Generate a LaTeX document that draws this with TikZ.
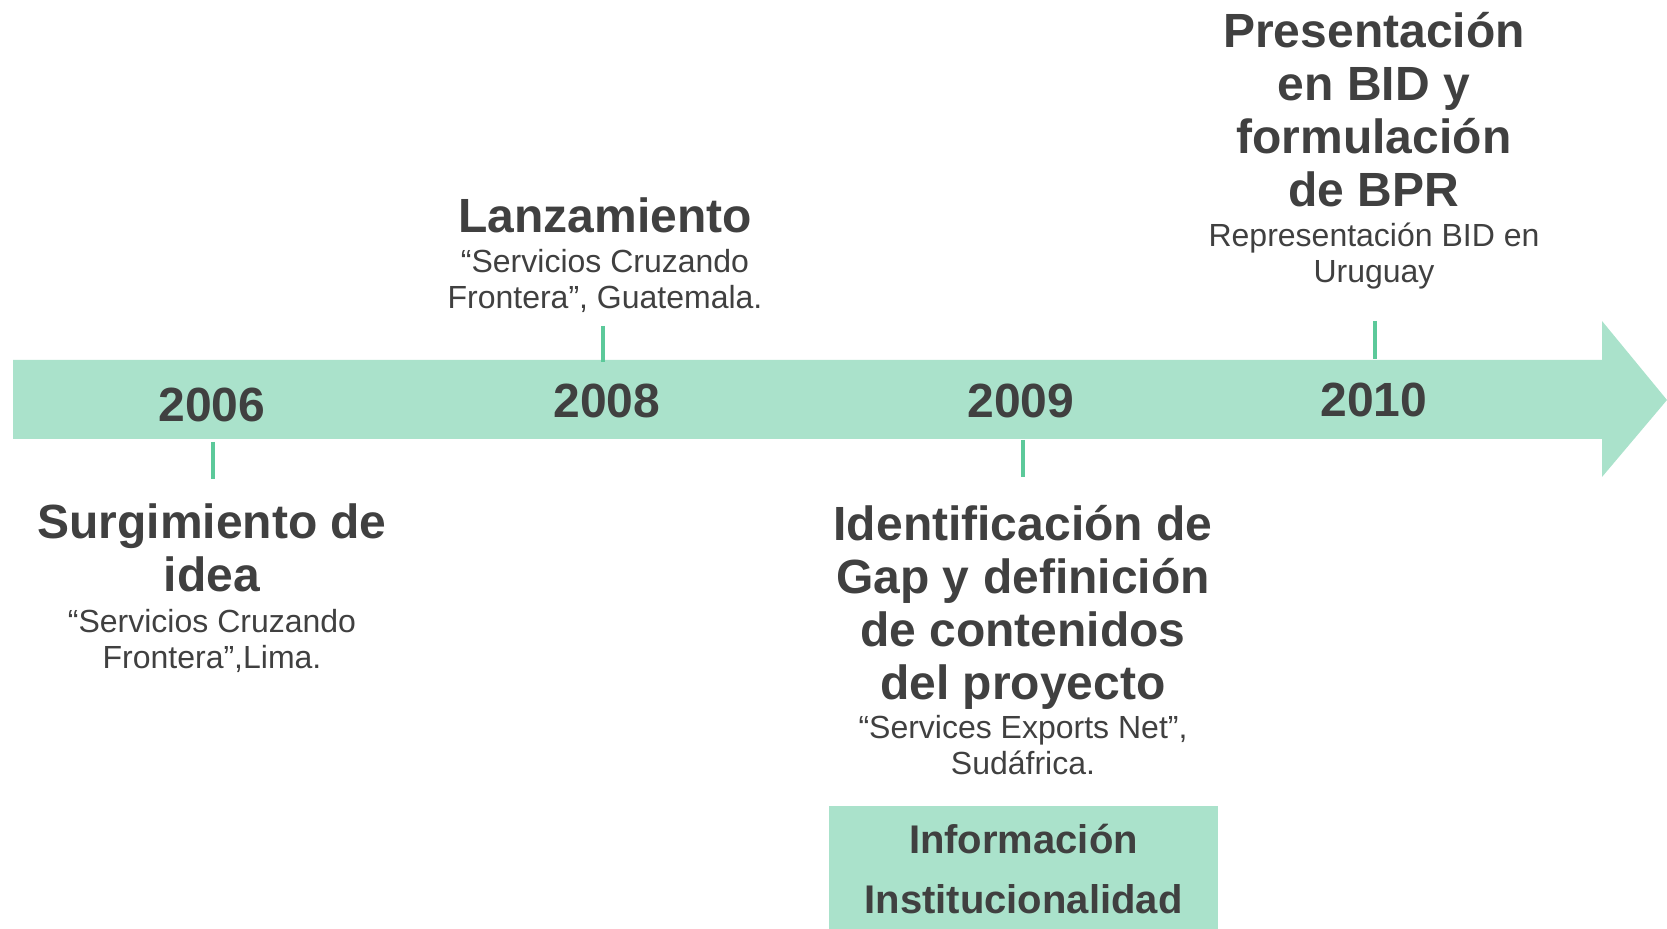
\documentclass[tikz,border=0pt]{standalone}
\usepackage{fontspec}
\setmainfont{Liberation Sans}
\usetikzlibrary{positioning}
\definecolor{mint}{HTML}{AAE2CB}
\definecolor{tickgreen}{HTML}{5CC99A}
\definecolor{darktext}{HTML}{404040}

\begin{document}
\begin{tikzpicture}[x=0.5pt, y=-0.5pt,
  year/.style={font=\bfseries\fontsize{24}{26}\selectfont, text=darktext, inner sep=0},
  title/.style={font=\bfseries\fontsize{24}{26.5}\selectfont, text=darktext, align=center, inner sep=0},
  sub/.style={font=\fontsize{16}{18}\selectfont, text=darktext, align=center, inner sep=0},
  tickline/.style={draw=tickgreen, line width=2.2pt},
  infobox/.style={fill=mint, minimum width=194.5pt, minimum height=63pt, align=center, text=darktext,
    font=\bfseries\fontsize{20}{30}\selectfont, inner sep=0}]
\useasboundingbox (0,0) rectangle (1667,929);
\fill[mint] (13,360) -- (1602,360) -- (1602,321) -- (1667,400) -- (1602,477) -- (1602,439) -- (13,439) -- cycle;
\node[year] (y2006) at (212,405) {2006};
\node[year] (y2008) at (607,401) {2008};
\node[year] (y2009) at (1021,401) {2009};
\node[year] (y2010) at (1374,400) {2010};
\coordinate (k06a) at (213,442);
\coordinate (k06b) at (213,479);
\coordinate (k08a) at (603,326);
\coordinate (k08b) at (603,362);
\coordinate (k09a) at (1023,440);
\coordinate (k09b) at (1023,477);
\coordinate (k10a) at (1375,321);
\coordinate (k10b) at (1375,359);
\draw[tickline] (k06a) -- (k06b);
\draw[tickline] (k08a) -- (k08b);
\draw[tickline] (k09a) -- (k09b);
\draw[tickline] (k10a) -- (k10b);
\node[title] (surg) at (212,548) {Surgimiento de\\idea};
\node[sub] (surgsub) at (212,641) {“Servicios Cruzando\\Frontera”,Lima.};
\node[title] (lanz) at (605,215) {Lanzamiento};
\node[sub] (lanzsub) at (605,281) {“Servicios Cruzando\\Frontera”, Guatemala.};
\node[title] (ident) at (1023,607) {Identificación de\\Gap y definición\\de contenidos\\del proyecto};
\node[sub] (identsub) at (1023,745) {“Services Exports Net”,\\Sudáfrica.};
\node[title] (pres) at (1374,110) {Presentación\\en BID y\\formulación\\de BPR};
\node[sub] (pressub) at (1374,256) {Representación BID en\\Uruguay};
\node[infobox] (info) at (1023.5,869) {Información\\Institucionalidad};
\end{tikzpicture}
\end{document}
